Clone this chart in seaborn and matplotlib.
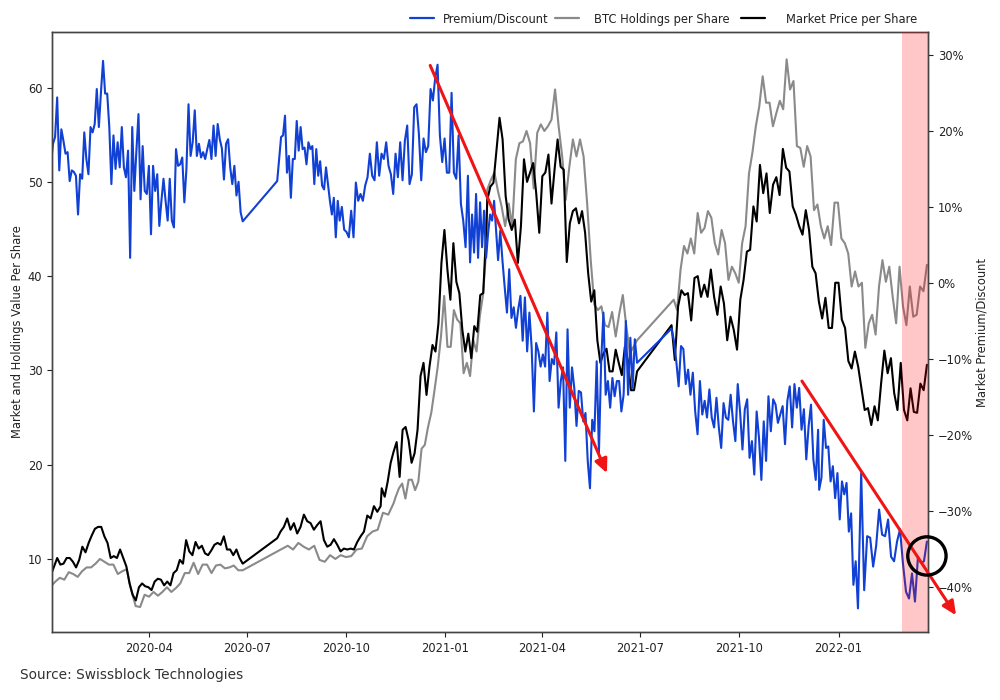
import pandas as pd
import matplotlib
matplotlib.use('Agg')
import matplotlib.pyplot as plt
import matplotlib.dates as mdates
from matplotlib.ticker import PercentFormatter
from matplotlib.lines import Line2D
import seaborn as sns

# Premium/Discount (%)
blue_a = [15.6, 18.3, 19.2, 24.4, 14.8, 20.2, 18.7, 17, 17.2, 13.4, 14.8, 14.6, 14.1, 9, 14.3, 13.7, 19.8, 16.3, 14.3,
          20.5, 19.8, 20.9, 25.5, 20.5, 25.1, 29.2, 24.9, 24.9, 20.5, 13, 19.4, 15, 18.5, 15.2, 20.5, 15.2, 13.9, 17.4,
          3.3, 20.5, 12.1, 17.4, 22.2, 11, 18, 12.1, 11.7, 15.4, 6.4, 15.4, 12.1, 14.3, 7.5, 10.8, 13.7, 10.8, 8.2,
          13.7, 8.2, 7.3, 17.6, 15.4, 15.6, 16.5, 10.6, 15, 23.5, 16.7, 18.5, 22.7, 16.7, 18.3, 16.5, 17.2, 16.3, 17.6,
          18.8, 16.3, 20.7, 16.7, 20.9, 18.9, 17.7, 13.6, 18.3, 18.9, 15.2, 13, 15.4, 11.5, 13.3, 9.3, 8.1]
blue_b1 = [13.4, 16.3, 19.2, 19.4, 22, 14.5, 16.7, 11.2, 16.3, 16.3, 21.3, 17.4, 20.5, 17.6, 17.8, 15.6, 18.5, 17.6, 18,
           13, 17.6, 14.1, 16, 12.8, 12.3, 15.2, 13, 10.8, 9, 11.2, 6, 10.8, 8.2]
blue_b2 = [10, 7, 6.7, 6, 9.5, 6, 13.2, 10.8, 11.7, 10.8, 12.8, 13.9, 17, 14.1, 13.5, 18.5, 14.1, 17, 16.3, 18.5, 15.4,
           14.3, 11.7, 17, 13.9, 18.5, 13.5, 18.7, 20.7, 13, 14.3, 23.1, 23.5, 19.6, 13.5, 19, 17.2, 18, 25.5, 24, 27,
           28.7, 19.4, 15.9, 19, 14.5, 14.5, 25, 14.5, 13.7, 19.4, 10.4, 8.2, 4.7, 14.1]
blue_b3 = [2.7, 9, 4, 11.7, 3.3, 10.6, 4.7, 9.5, 3.3, 6.5, 9, 8.2, 10.8, 7, 3]
blue_b4 = [6.85, 2.9, -0.6, -3.9, 1.8, -4.6, -3.2, -5.9, -3.5, -1.7, -7.6, -1.9, -9, -3.9, -8.5, -16.9, -7.9, -9, -11,
           -9.4, -11, -3.9, -12.9, -10, -10.7, -6.5, -16.4, -12.9, -11.1, -23.4, -6.1, -16.4, -11.1, -13.8, -18.8,
           -14.2, -14.4, -18.2, -17.1, -23.4, -27, -18, -19.5, -10.3, -22.3, -10.3, -3.9, -14.7, -12.9, -16.4, -12.5,
           -14.9, -12.9, -12.9, -16.9, -14.7, -5, -14.7, -7.2, -13.8, -7.4, -10.5]
blue_c1 = [-6, -7.6, -10.3, -13.6, -8.3, -8.7, -13.3, -11.4, -14.7, -11.8, -16.9, -19.9, -12.9, -17.3, -15.5, -17.7, -14,
           -17.7, -19, -15.1, -19, -21.7, -15.8, -17.7, -18, -14.7, -18.2, -20.8, -13.3, -17, -21.9, -16.6, -15.3, -23,
           -20.8, -25.2, -16.9, -20.4, -25.9, -18.2, -23.4, -14.9, -19.5, -15.3, -16, -18.4, -17.3, -16.2, -21.2, -15.5,
           -13.6, -19, -13.3, -16.4, -13.8, -19.3, -16.6, -23.2, -18.8, -16, -23.2, -25.9, -19.3]
blue_c2 = [-27.2, -25.6, -18, -21.7, -21.5, -26.1, -24.1, -28.3, -25, -31.1, -26.1, -27.8, -26.3, -32.7, -30.3, -39.7,
           -36.6, -42.8]
blue_c3 = [-25, -40.4, -33.3, -33.5, -37.3, -34.6, -29.8, -33.1, -33.3, -31.1, -36, -36.6, -34, -32.4, -37,
           -40.6, -41.5, -38.2, -41.9, -36, -36.8, -36.6, -34]

# Market Price per Share
black_a = [8.3, 9.2, 10.1, 9.4, 9.5, 10.1, 10.1, 9.7, 9.1, 9.9, 11.3, 10.7, 11.7, 12.5, 13.2, 13.4, 13.4, 12.4, 11.7,
           10.1, 10.3, 10.1, 11, 10.1, 9.2, 7.4, 6.2, 5.6, 7, 7.4, 7.1, 7, 6.7, 7.6, 7.9, 7.8, 7.2, 7.6, 7.2, 8.5, 8.8,
           9.9, 9.5, 12, 10.8, 10.4, 11.8, 11.1, 11.4, 10.6, 10.4, 10.9, 11.5, 11.7, 11.5, 12.4, 11, 11, 10.4, 11, 10.1,
           9.5]
black_b1 = [12.2, 12.9, 13.4, 14.3, 13.1, 13.8, 12.7, 13.4, 14.7, 14, 13.8, 13.1, 13.6, 14, 12, 11.3, 11.5, 12.1, 11.5,
            10.8, 11.1, 11, 11.1, 11, 11.8, 12.4, 12.9, 14.6, 14.3, 15.6, 15, 15.6]
black_b2 = [17.5, 16.6, 18.2, 20.2, 21.4, 22.4, 18.7, 23.7, 24, 22.6, 20.2, 21.2, 23.7, 29.4, 30.8, 27.4, 30.4, 32.7, 32,
            35, 41.4, 44.9, 40.7, 37.5, 43.5, 39.4, 38.2, 34.3, 32, 33.9, 31.3, 34.7, 34.1, 38, 38.2, 44.9]
black_b3 = [48.1, 49.5, 49.9, 53.4, 56.8, 54.5, 48.5, 46, 44.9, 46, 41.4, 45.3, 52.4, 50, 51, 52, 48.8, 44.6, 50.6, 51,
            52.9, 47.7, 51.3, 54.5, 51.6, 51.3, 41.5, 45.6, 46.9, 47.2, 45.6, 46.9, 44.6, 40.3, 37.3, 38.5, 33.2, 30.8,
            31.8, 32.3, 29.9, 29.9, 32.2, 30.8, 29.5, 32.5, 31, 27.9, 27.9, 29.9]
black_c = [34.8, 31.1, 36.8, 38.5, 38, 38.2, 35.3, 39.8, 40, 37.8, 39.1, 37.8, 40.7, 37.8, 35.9, 38.9, 37.1, 33.2, 35.7,
           34.3, 32.2, 37.5, 39.6, 42.6, 42.8, 47.4, 45.8, 51.8, 48.8, 50.9, 46.7, 49.7, 50.5, 48.6, 53.5, 51.5, 51.1,
           47.4, 46.5, 45.3, 44.4, 47, 44.9, 41, 40.3, 37.3, 35.5, 37.7, 34.5, 34.5, 39.3, 39.3, 35.4, 34.5, 31, 30.2,
           32, 30.4, 28.1, 25.8, 26, 24.2, 26.2, 24.7, 28.6, 32.1, 29.7, 31.3, 27.6, 25.8, 30.8, 25.8, 24.7, 28.1, 25.6,
           25.5, 28.6, 27.9, 30.6]

# BTC Holdings per Share
gray_a = [7.1, 7.6, 8, 7.8, 8.6, 8.4, 8.1, 8.7, 9.1, 9.1, 9.5, 10, 9.7, 9.4, 9.4, 8.4, 8.7, 8.9, 6.7, 5, 4.9, 6.2, 6, 6.5,
          6.1, 6.5, 7, 6.5, 6.9, 7.4, 8.5, 8.5, 9.6, 8.4, 9.4, 9.4, 8.5, 9.3, 9.4, 9, 9.1, 9.3, 8.8, 8.8]
gray_b1 = [10.8, 11.1, 11.4, 11, 11.7, 11.3, 11, 11.4, 9.9, 9.7, 10.4, 10, 10.4, 10.2, 10.3, 11, 11.1, 12.4, 12.9, 13.1,
           14.9, 14.7, 15.9]
gray_b2 = [16.6, 17.5, 18, 16.4, 18.4, 18.4, 17.3, 18.2, 21.7, 22.1, 24, 25.5, 27.9, 30.4, 33.6, 37.9, 32.5, 32.5, 36.4,
           35.4, 35, 29.7, 30.8, 29.4, 33.2, 32, 35.7, 38, 42.8]
gray_b3 = [49.2, 50.2, 51, 49, 47.4, 45.3, 47.7, 45.3, 52.4, 54.1, 54.3, 55.4, 54.1, 49.3, 55.2, 56.1, 55.4, 55.9, 56.6,
           59.8, 55.9, 52.7, 48.1, 51.6, 54.5, 52.7, 54.5, 52.7, 47.7, 41.7, 37, 36.4, 36.8, 34.8, 34.6, 36.2, 33.6, 36,
           38, 34.6, 31.8, 32.5, 33.2]
gray_c = [37.5, 36.4, 40.7, 43.2, 42.4, 44, 42.4, 46.7, 44.6, 45.1, 46.9, 46.2, 43.5, 42.3, 44.9, 43.5, 39.6, 41, 40.3,
          39.3, 43.5, 45.3, 50.9, 53.1, 55.9, 58, 61.2, 58.4, 58.4, 55.9, 57.3, 58.6, 57.7, 63, 59.8, 60.7, 53.8, 53.6,
          51.6, 53.8, 52.7, 47, 47.6, 45.3, 44, 45.3, 43.3, 47.8, 47.8, 44, 43.5, 42.4, 38.9, 40.5, 38.9, 39.3, 32.4, 35,
          35.9, 33.8, 38.9, 41.7, 39.4, 41, 37.8, 35, 41, 36.8, 34.8, 38.9, 35.7, 35.9, 38.9, 38.4, 41.2]

blue_parts = [('2020-01-01', '2020-06-27', blue_a), ('2020-07-29', '2020-09-25', blue_b1),
              ('2020-09-27', '2021-01-22', blue_b2), ('2021-01-24', '2021-02-19', blue_b3),
              ('2021-02-21', '2021-06-28', blue_b4), ('2021-07-30', '2021-12-13', blue_c1),
              ('2021-12-14', '2022-01-19', blue_c2), ('2022-01-22', '2022-03-24', blue_c3)]
black_parts = [('2020-01-01', '2020-06-27', black_a), ('2020-07-29', '2020-11-02', black_b1),
               ('2020-11-03', '2021-02-08', black_b2), ('2021-02-09', '2021-06-28', black_b3),
               ('2021-07-30', '2022-03-24', black_c)]
gray_parts = [('2020-01-01', '2020-06-27', gray_a), ('2020-07-29', '2020-11-14', gray_b1),
              ('2020-11-16', '2021-02-08', gray_b2), ('2021-02-09', '2021-06-28', gray_b3),
              ('2021-08-01', '2022-03-24', gray_c)]


def build_series(parts):
    frames = []
    for start, end, values in parts:
        dates = pd.date_range(start, end, periods=len(values))
        frames.append(pd.DataFrame({'date': dates, 'value': values}))
    return pd.concat(frames, ignore_index=True)


BLUE = '#1040d4'
GRAY = '#8a8a8a'
BLACK = '#000000'

sns.set_style('ticks')

fig = plt.figure(figsize=(10, 7), dpi=100)
ax = fig.add_axes([0.052, 68 / 700, 0.876, 600 / 700])
ax2 = ax.twinx()

sns.lineplot(data=build_series(gray_parts), x='date', y='value', color=GRAY, linewidth=1.5,
             estimator=None, errorbar=None, ax=ax)
sns.lineplot(data=build_series(black_parts), x='date', y='value', color=BLACK, linewidth=1.5,
             estimator=None, errorbar=None, ax=ax)
sns.lineplot(data=build_series(blue_parts), x='date', y='value', color=BLUE, linewidth=1.5,
             estimator=None, errorbar=None, ax=ax2)

ax.set_xlim(pd.Timestamp('2020-01-02'), pd.Timestamp('2022-03-25'))
ax.set_ylim(2.25, 65.9)
ax2.set_ylim(-45.9, 33)

ax.set_yticks([10, 20, 30, 40, 50, 60])
ax2.set_yticks([-40, -30, -20, -10, 0, 10, 20, 30])
ax2.yaxis.set_major_formatter(PercentFormatter(decimals=0))
ax.xaxis.set_major_locator(mdates.MonthLocator(bymonth=[1, 4, 7, 10]))
ax.xaxis.set_major_formatter(mdates.DateFormatter('%Y-%m'))

for a in (ax, ax2):
    a.tick_params(labelsize=8.3, length=3.5, width=0.8, colors='#222222')
    for spine in a.spines.values():
        spine.set_visible(True)
        spine.set_color('#444444')
        spine.set_linewidth(1.0)

ax.set_xlabel('')
ax.set_ylabel('Market and Holdings Value Per Share', fontsize=8.3, color='#222222')
ax2.set_ylabel('Market Premium/Discount', fontsize=8.3, color='#222222')
ax.yaxis.set_label_coords(-0.032, 0.5)
ax2.yaxis.set_label_coords(1.0545, 0.5)

# highlighted recent window
ax2.axvspan(pd.Timestamp('2022-03-01'), pd.Timestamp('2022-03-25'), color='red', alpha=0.22, lw=0, zorder=5)

# hand-drawn style trend arrows, they run past the axes
for start, end in [(('2020-12-18', 28.6), ('2021-05-31', -25)), (('2021-11-28', -12.9), ('2022-04-20', -43.7))]:
    ax2.annotate('', xy=(pd.Timestamp(end[0]), end[1]), xytext=(pd.Timestamp(start[0]), start[1]),
                 annotation_clip=False, zorder=8,
                 arrowprops=dict(arrowstyle='-|>,head_length=0.75,head_width=0.35', color='#f01414', lw=2.2,
                                 shrinkA=0, shrinkB=0, mutation_scale=11))

# circle on the last reading
ax2.scatter([pd.Timestamp('2022-03-24')], [-35.9], s=760, facecolors='none', edgecolors='black',
            linewidths=2.4, clip_on=False, zorder=9)

# three separate legends, spacing differs between them
legend_items = [('Premium/Discount', BLUE, 0.410, 0.78), ('BTC Holdings per Share', GRAY, 0.555, 1.3),
                ('Market Price per Share', BLACK, 0.741, 1.83)]
for label, color, xpos, textpad in legend_items:
    handle = Line2D([0], [0], color=color, linewidth=1.6)
    fig.legend([handle], [label], loc='center left', bbox_to_anchor=(xpos, 681 / 700), frameon=False,
               fontsize=8.3, handlelength=2.05, handletextpad=textpad, borderpad=0, borderaxespad=0,
               labelcolor='#222222')

fig.text(0.02, 25 / 700, 'Source: Swissblock Technologies', fontsize=9.9, color='#333333', va='center')

fig.savefig('out.png', dpi=100)
plt.close('all')
